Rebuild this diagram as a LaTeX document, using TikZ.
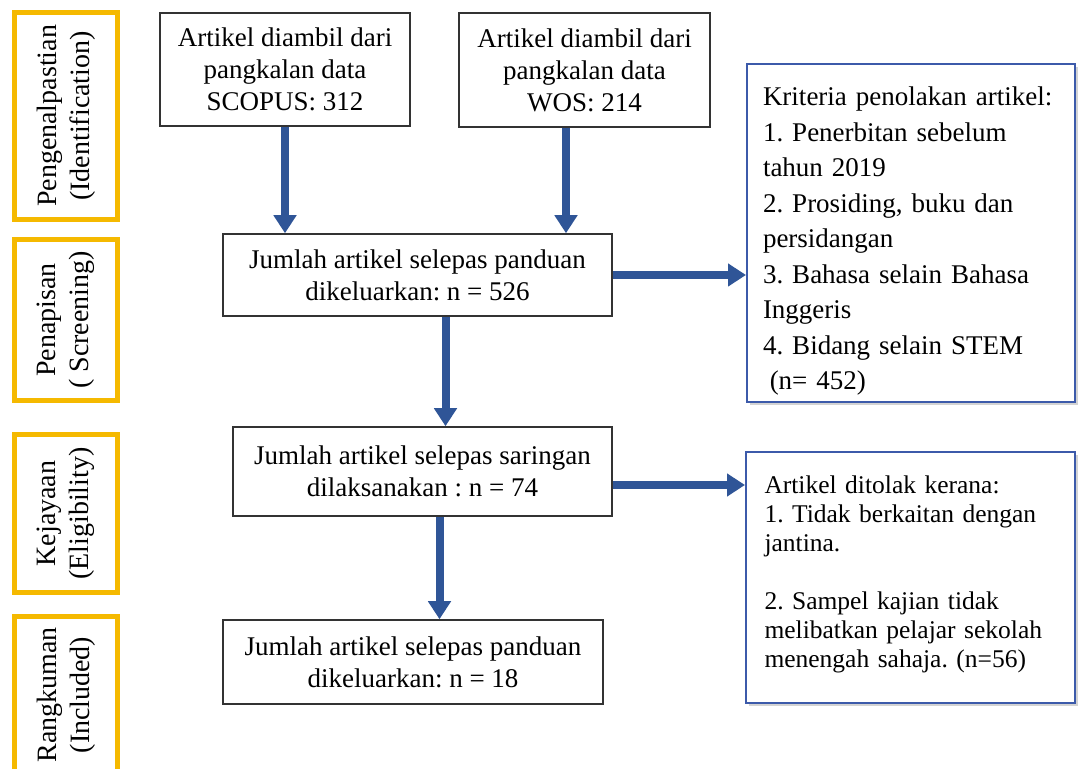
\documentclass[tikz,border=0pt]{standalone}
\usepackage{fontspec}
\setmainfont{Liberation Serif}
\usetikzlibrary{arrows.meta, shadows}
\definecolor{biru}{RGB}{47,85,151}
\definecolor{birugaris}{RGB}{60,90,170}
\definecolor{kuning}{RGB}{245,185,0}
\frenchspacing

\begin{document}
\begin{tikzpicture}[x=0.5pt, y=-0.5pt,
	kotak/.style={draw=black!80, line width=0.75pt, fill=white, align=center,
		inner sep=0pt, font=\fontsize{13.5}{16}\selectfont},
	kotakbiru/.style={draw=birugaris, line width=1pt, fill=white, align=left,
		inner sep=0pt, drop shadow={shadow xshift=1.5pt, shadow yshift=-1.5pt, opacity=0.35}},
	fasa/.style={draw=kuning, line width=2.5pt, fill=white, align=center, rotate=90,
		inner sep=0pt, minimum height=51.5pt, font=\fontsize{14}{16.5}\selectfont},
	panah/.style={draw=biru, line width=4pt, -{Triangle[length=9pt, width=11pt]}}]
			\useasboundingbox (0,0) rectangle (1078,769);

			% Fasa
			\node[fasa, minimum width=103.5pt] (fasa1) at (66,116) {Pengenalpastian\\(Identification)};
			\node[fasa, minimum width=80.5pt] (fasa2) at (66,320) {Penapisan\\( Screening)};
			\node[fasa, minimum width=79pt] (fasa3) at (66,513.5) {Kejayaan\\(Eligibility)};
			\node[fasa, minimum width=78pt] (fasa4) at (66,695) {Rangkuman\\(Included)};

			% Pangkalan data
			\node[kotak, minimum width=125pt, minimum height=56.5pt] (scopus) at (285,69.5)
				{Artikel diambil dari\\pangkalan data\\SCOPUS: 312};
			\node[kotak, minimum width=125.5pt, minimum height=57pt] (wos) at (584.5,70)
				{Artikel diambil dari\\pangkalan data\\WOS: 214};

			% Jumlah artikel
			\node[kotak, minimum width=194.5pt, minimum height=41pt] (jumlah1) at (417.5,275)
				{Jumlah artikel selepas panduan\\dikeluarkan: n = 526};
			\node[kotak, minimum width=189.5pt, minimum height=44.5pt] (jumlah2) at (422.5,471.5)
				{Jumlah artikel selepas saringan\\dilaksanakan : n = 74};
			\node[kotak, minimum width=190pt, minimum height=42pt] (jumlah3) at (413,662)
				{Jumlah artikel selepas panduan\\dikeluarkan: n = 18};

			% Artikel ditolak
			\node[kotakbiru, minimum width=164pt, minimum height=169pt, text width=148pt,
				font=\fontsize{13.5}{17.75}\selectfont] (kriteria) at (911,233)
				{\rule{0pt}{17.5pt}Kriteria penolakan artikel:\\1. Penerbitan sebelum\\tahun 2019\\2. Prosiding, buku dan\\persidangan\\3. Bahasa selain Bahasa\\Inggeris\\4. Bidang selain STEM\\\hspace*{0.25em}(n= 452)};
			\node[kotakbiru, minimum width=164.5pt, minimum height=125.5pt, text width=146pt,
				font=\fontsize{12.75}{14.5}\selectfont] (ditolak) at (910.5,577.5)
				{Artikel ditolak kerana:\\1. Tidak berkaitan dengan\\jantina.\\[14.5pt]2. Sampel kajian tidak\\melibatkan pelajar sekolah\\menengah sahaja. (n=56)\\[-8.5pt]\mbox{}};

			% Anak panah
			\coordinate (wosbawah) at ([xshift=-9.25pt]wos.south);
			\coordinate (j1bawah) at ([xshift=14pt]jumlah1.south);
			\coordinate (j2kanan) at ([yshift=-6.75pt]jumlah2.east);
			\coordinate (j2bawah) at ([xshift=8.5pt]jumlah2.south);
			\draw[panah] (scopus.south) -- (scopus.south |- jumlah1.north);
			\draw[panah] (wosbawah) -- (wosbawah |- jumlah1.north);
			\draw[panah] (jumlah1.east) -- (jumlah1.east -| kriteria.west);
			\draw[panah] (j1bawah) -- (j1bawah |- jumlah2.north);
			\draw[panah] (j2kanan) -- (j2kanan -| ditolak.west);
			\draw[panah] (j2bawah) -- (j2bawah |- jumlah3.north);
		\end{tikzpicture}
\end{document}
